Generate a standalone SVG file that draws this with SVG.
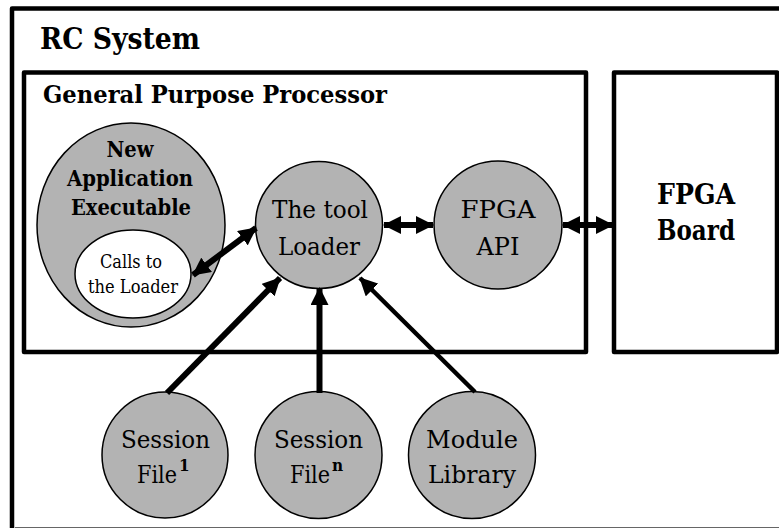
<svg xmlns="http://www.w3.org/2000/svg" width="779" height="529" viewBox="0 0 779 529" font-family="'DejaVu Serif Condensed', 'DejaVu Serif', serif">
  <style>
    text { font-stretch: condensed; fill: #000; }
    .frame { fill: none; stroke: #000; stroke-width: 4.5; stroke-linejoin: round; }
    .node { fill: #b3b3b3; stroke: #000; stroke-width: 1.5; }
    .inner { fill: #fff; stroke: #000; stroke-width: 1.5; }
    .title { font-weight: bold; }
    .label { text-anchor: middle; }
    .bold { font-weight: bold; }
    .sup { font-weight: bold; font-size: 17px; }
    .link { fill: none; stroke: #000; stroke-width: 6; }
    .link.thin { stroke-width: 4.5; }
  </style>
  <defs>
    <marker id="head" markerUnits="userSpaceOnUse" viewBox="0 0 18 18" refX="17" refY="9" markerWidth="18" markerHeight="18" orient="auto-start-reverse">
      <path d="M0,0 L18,9 L0,18 z" fill="#000"/>
    </marker>
  </defs>

  <rect width="779" height="529" fill="#fff"/>

  <!-- outer system frame -->
  <g id="rc-system">
    <path class="frame" d="M12,528 V8.5 H782" stroke-width="6"/>
    <line x1="15" y1="527.5" x2="779" y2="527.5" stroke="#666" stroke-width="1.2"/>
    <text class="title" x="40" y="49" font-size="30" textLength="160" lengthAdjust="spacingAndGlyphs">RC System</text>
  </g>

  <!-- host processor box -->
  <g id="gpp">
    <rect class="frame" x="24" y="72.5" width="562" height="279.5"/>
    <text class="title" x="43" y="103" font-size="25" textLength="344" lengthAdjust="spacingAndGlyphs">General Purpose Processor</text>
  </g>

  <!-- board box -->
  <g id="fpga-board">
    <rect class="frame" x="614" y="72.5" width="163" height="279.5"/>
    <text class="label bold" x="696" y="204" font-size="27" textLength="78" lengthAdjust="spacingAndGlyphs">FPGA</text>
    <text class="label bold" x="696" y="240" font-size="27" textLength="78" lengthAdjust="spacingAndGlyphs">Board</text>
  </g>

  <g id="application">
    <ellipse class="node" cx="131" cy="225" rx="94" ry="102"/>
    <text class="label bold" x="130" y="157" font-size="23" textLength="47" lengthAdjust="spacingAndGlyphs">New</text>
    <text class="label bold" x="130" y="186" font-size="23" textLength="126" lengthAdjust="spacingAndGlyphs">Application</text>
    <text class="label bold" x="131" y="215" font-size="23" textLength="120" lengthAdjust="spacingAndGlyphs">Executable</text>
  </g>

  <g id="loader-calls">
    <ellipse class="inner" cx="133" cy="274" rx="58" ry="44"/>
    <text class="label" x="131" y="268" font-size="19" textLength="62" lengthAdjust="spacingAndGlyphs">Calls to</text>
    <text class="label" x="133" y="293" font-size="19" textLength="90" lengthAdjust="spacingAndGlyphs">the Loader</text>
  </g>

  <g id="loader">
    <circle class="node" cx="319" cy="225" r="63.5"/>
    <text class="label" x="320" y="218" font-size="25" textLength="96" lengthAdjust="spacingAndGlyphs">The tool</text>
    <text class="label" x="319" y="255" font-size="25" textLength="82" lengthAdjust="spacingAndGlyphs">Loader</text>
  </g>

  <g id="fpga-api">
    <circle class="node" cx="498" cy="225" r="64"/>
    <text class="label" x="498" y="218" font-size="25" textLength="75" lengthAdjust="spacingAndGlyphs">FPGA</text>
    <text class="label" x="498" y="255" font-size="25" textLength="43" lengthAdjust="spacingAndGlyphs">API</text>
  </g>

  <g id="session-file-1">
    <circle class="node" cx="165" cy="455" r="63"/>
    <text class="label" x="165.5" y="448" font-size="25" textLength="89" lengthAdjust="spacingAndGlyphs">Session</text>
    <text x="137" y="483" font-size="25" textLength="40" lengthAdjust="spacingAndGlyphs">File</text>
    <text class="sup" x="179" y="471">1</text>
  </g>

  <g id="session-file-n">
    <circle class="node" cx="318.5" cy="455" r="63.5"/>
    <text class="label" x="318.5" y="448" font-size="25" textLength="89" lengthAdjust="spacingAndGlyphs">Session</text>
    <text x="290" y="483" font-size="25" textLength="40" lengthAdjust="spacingAndGlyphs">File</text>
    <text class="sup" x="332" y="471">n</text>
  </g>

  <g id="module-library">
    <circle class="node" cx="472" cy="455" r="63.5" stroke-width="4"/>
    <text class="label" x="472" y="448" font-size="25" textLength="92" lengthAdjust="spacingAndGlyphs">Module</text>
    <text class="label" x="472" y="483" font-size="25" textLength="88" lengthAdjust="spacingAndGlyphs">Library</text>
  </g>

  <!-- connectors -->
  <g id="connectors">
    <line class="link" x1="193" y1="275" x2="256" y2="228" marker-start="url(#head)" marker-end="url(#head)"/>
    <line class="link" x1="384" y1="225" x2="433" y2="225" marker-start="url(#head)" marker-end="url(#head)"/>
    <line class="link" x1="563" y1="225" x2="613" y2="225" marker-start="url(#head)" marker-end="url(#head)"/>
    <line class="link" x1="167" y1="393" x2="280" y2="278" marker-end="url(#head)"/>
    <line class="link" x1="319.5" y1="393" x2="319.5" y2="288" marker-end="url(#head)"/>
    <line class="link thin" x1="475" y1="392" x2="360" y2="278" marker-end="url(#head)"/>
  </g>
</svg>
